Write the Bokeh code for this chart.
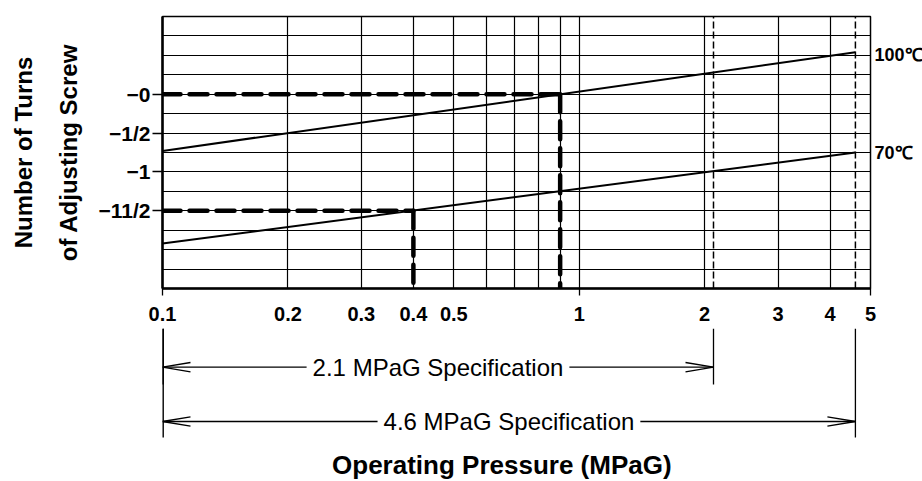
import math
from bokeh.plotting import figure
from bokeh.models import Range1d, FixedTicker, LinearAxis
from bokeh.layouts import column
from bokeh.embed import file_html
from bokeh.resources import INLINE
from bokeh.core.properties import value

# ---------------- data ----------------
x_min, x_max = 0.1, 5.0
y_min, y_max = -2.5, 1.0

x_ticks = [0.1, 0.2, 0.3, 0.4, 0.5, 1, 2, 3, 4, 5]
x_tick_labels = ["0.1", "0.2", "0.3", "0.4", "0.5", "1", "2", "3", "4", "5"]
x_tick_marks = [0.1, 1, 5]
x_grid = [0.2, 0.3, 0.4, 0.5, 0.6, 0.7, 0.8, 0.9, 1, 2, 3, 4]

y_ticks = [0, -0.5, -1, -1.5]
y_tick_labels = ["\u22120", "\u22121/2", "\u22121", "\u221211/2"]
y_grid = [0.75, 0.5, 0.25, 0, -0.25, -0.5, -0.75, -1, -1.25, -1.5,
          -1.75, -2, -2.25]

curve_names = ["100\u2103", "70\u2103"]
curve_x = [[0.1, 4.6], [0.1, 4.6]]
curve_y = [[-0.73, 0.54], [-1.92, -0.75]]
curve_label_y = [0.5, -0.75]

guide_x = [0.9, 0.4]
guide_y = [0.0, -1.5]

spec_pressures = [2.1, 4.6]
spec_labels = ["2.1 MPaG Specification", "4.6 MPaG Specification"]

x_title = "Operating Pressure (MPaG)"
y_title = "Number of Turns\nof Adjusting Screw"

# ---------------- layout constants ----------------
FONT = "Liberation Sans"
FW, FH = 708, 272
LEFT, RIGHT = 162, 52
TOP, BOTTOM = 16, 40
ppd = FW / math.log10(x_max / x_min)   # pixels per decade

p = figure(x_axis_type="log",
           x_range=Range1d(x_min, x_max), y_range=Range1d(y_min, y_max),
           frame_width=FW, frame_height=FH,
           min_border_left=LEFT, min_border_right=RIGHT,
           min_border_top=TOP, min_border_bottom=BOTTOM,
           output_backend="svg", toolbar_location=None,
           outline_line_color="black", outline_line_width=1.5)

# grid
p.xgrid.ticker = FixedTicker(ticks=x_grid)
p.ygrid.ticker = FixedTicker(ticks=y_grid)
p.grid.grid_line_color = "black"
p.grid.grid_line_width = 1.2
p.grid.grid_line_alpha = 1.0

# x axis
xa = p.xaxis[0]
xa.ticker = FixedTicker(ticks=x_ticks, minor_ticks=x_tick_marks)
xa.major_label_overrides = dict(zip(x_ticks, x_tick_labels))
xa.axis_line_width = 2.5
xa.major_tick_out = 0
xa.major_tick_in = 0
xa.minor_tick_out = 7
xa.minor_tick_in = 0
xa.minor_tick_line_width = 1.3
xa.minor_tick_line_color = "black"
xa.major_label_standoff = 11
xa.major_label_text_font = FONT
xa.major_label_text_font_style = "bold"
xa.major_label_text_font_size = "20px"
xa.major_label_text_color = "black"

# y axis
ya = p.yaxis[0]
ya.ticker = FixedTicker(ticks=y_ticks)
ya.major_label_overrides = dict(zip(y_ticks, y_tick_labels))
ya.axis_line_width = 2.5
ya.major_tick_out = 10
ya.major_tick_in = 0
ya.major_tick_line_width = 1.3
ya.minor_tick_line_color = None
ya.major_label_standoff = 2
ya.major_label_text_font = FONT
ya.major_label_text_font_style = "bold"
ya.major_label_text_font_size = "21px"
ya.major_label_text_color = "black"
ya.axis_label = y_title
ya.axis_label_text_font = FONT
ya.axis_label_text_font_style = "bold"
ya.axis_label_text_font_size = "24px"
ya.axis_label_text_color = "black"
ya.axis_label_text_line_height = 1.65
ya.axis_label_standoff = 14

# right axis with curve names
ra = LinearAxis(ticker=FixedTicker(ticks=curve_label_y),
                major_label_overrides=dict(zip(curve_label_y, curve_names)),
                axis_line_color=None, major_tick_line_color=None,
                minor_tick_line_color=None, major_tick_out=0, major_tick_in=0,
                major_label_standoff=4,
                major_label_text_font=FONT,
                major_label_text_font_style="bold",
                major_label_text_font_size="18px",
                major_label_text_color="black")
p.add_layout(ra, "right")

# curves
for cx, cy in zip(curve_x, curve_y):
    p.line(cx, cy, line_width=2, color="black")

# specification pressure dashed lines
p.segment(x0=spec_pressures, y0=[y_min] * len(spec_pressures),
          x1=spec_pressures, y1=[y_max] * len(spec_pressures),
          line_width=1.5, line_dash="7 3", color="black")

# thick dashed guide lines
p.segment(x0=[x_min] * len(guide_x), y0=guide_y, x1=guide_x, y1=guide_y,
          line_width=4.5, line_dash="18 9", line_cap="round", color="black")
p.segment(x0=guide_x, y0=guide_y, x1=guide_x, y1=[y_min] * len(guide_x),
          line_width=4.5, line_dash="18 9", line_cap="round", color="black")

# ---------------- lower panel: dimension lines ----------------
QH = 152
q = figure(x_axis_type="log",
           x_range=p.x_range,
           y_range=Range1d(QH, 0),
           frame_width=FW, frame_height=QH,
           min_border_left=LEFT, min_border_right=RIGHT,
           min_border_top=0, min_border_bottom=0,
           x_axis_location=None, y_axis_location=None,
           output_backend="svg", toolbar_location=None,
           outline_line_color=None)
q.grid.visible = False

ext_top = 0
ext_bottom = [56, 109]
dim_y = [38.7, 93]
head_len, head_half = 28, 4.7
f = 10 ** (head_len / ppd)

for s, eb, dy in zip(spec_pressures, ext_bottom, dim_y):
    # left extension sits on the frame edge, so half of it is clipped
    q.segment(x0=[x_min], y0=[ext_top], x1=[x_min], y1=[eb],
              line_width=2.8, color="black")
    q.segment(x0=[s], y0=[ext_top], x1=[s], y1=[eb],
              line_width=1.3, color="black")
    q.segment(x0=[x_min], y0=[dy], x1=[s], y1=[dy], line_width=1.3, color="black")
    q.multi_line(xs=[[x_min * f, x_min, x_min * f], [s / f, s, s / f]],
                 ys=[[dy - head_half, dy, dy + head_half]] * 2,
                 line_width=1.3, color="black")

q.text(x=[math.sqrt(x_min * s) for s in spec_pressures], y=dim_y,
       text=spec_labels, text_align="center", text_baseline="middle",
       text_font=value(FONT), text_font_size="24px", text_color="black",
       background_fill_color="white", padding=6)

TITLE_X, TITLE_Y = 0.652, 136
q.text(x=[TITLE_X], y=[TITLE_Y], text=[x_title], text_align="center",
       text_baseline="middle", text_font=value(FONT),
       text_font_style="bold", text_font_size="26px", text_color="black")

layout = column(p, q)
open("out.html", "w").write(file_html(layout, INLINE))
